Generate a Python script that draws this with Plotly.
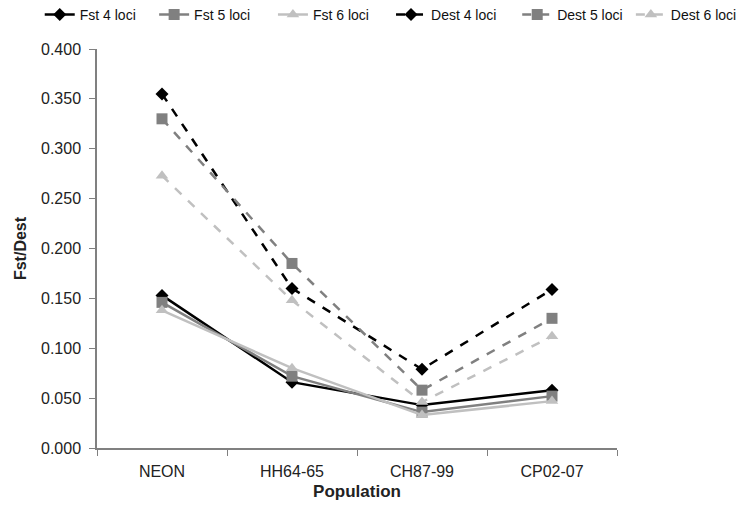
import plotly.graph_objects as go

categories = ["NEON", "HH64-65", "CH87-99", "CP02-07"]
fst4 = [0.153, 0.066, 0.043, 0.058]
fst5 = [0.146, 0.072, 0.036, 0.052]
fst6 = [0.138, 0.080, 0.033, 0.047]
dest4 = [0.355, 0.160, 0.079, 0.159]
dest5 = [0.330, 0.185, 0.058, 0.130]
dest6 = [0.273, 0.148, 0.046, 0.112]
y_ticks = [0.0, 0.05, 0.1, 0.15, 0.2, 0.25, 0.3, 0.35, 0.4]

series = [
    ("Fst 4 loci", fst4, "#000000", "diamond", "solid"),
    ("Fst 5 loci", fst5, "#808080", "square", "solid"),
    ("Fst 6 loci", fst6, "#c0c0c0", "triangle-up", "solid"),
    ("Dest 4 loci", dest4, "#000000", "diamond", "dash"),
    ("Dest 5 loci", dest5, "#808080", "square", "dash"),
    ("Dest 6 loci", dest6, "#c0c0c0", "triangle-up", "dash"),
]
legend_x = [0.043, 0.198, 0.359, 0.519, 0.690, 0.844]

fig = go.Figure()
legend_layouts = {}
for i, (name, vals, color, sym, dash) in enumerate(series):
    key = "legend" if i == 0 else f"legend{i + 1}"
    fig.add_trace(go.Scatter(
        x=categories, y=vals, name=name, mode="lines+markers", legend=key,
        line=dict(color=color, width=2.5, dash=dash),
        marker=dict(symbol=sym, size=11 if sym != "diamond" else 10, color=color),
    ))
    legend_layouts[key] = dict(
        orientation="h", x=legend_x[i], y=0.986, xref="container", yref="container",
        xanchor="left", yanchor="middle", font=dict(size=14, color="#111111"),
        itemwidth=30, bgcolor="rgba(0,0,0,0)",
    )

fig.update_layout(
    width=738, height=493,
    margin=dict(l=89, r=129, t=41, b=53, autoexpand=False),
    plot_bgcolor="white", paper_bgcolor="white",
    font=dict(family="Liberation Sans, Arial, sans-serif", color="#222222"),
    showlegend=True,
    xaxis=dict(
        type="category", range=[-0.5, 3.5], showgrid=False, showline=True,
        linecolor="#808080", linewidth=1.5,
        ticks="outside", tickson="boundaries", ticklen=6, tickcolor="#808080",
        ticklabelstandoff=8,
        tickfont=dict(size=16, color="#222222"),
        title=dict(text="<b>Population</b>", font=dict(size=17, color="#222222"), standoff=17),
    ),
    yaxis=dict(
        range=[0, 0.4], tickvals=y_ticks, tickformat=".3f", showgrid=False, zeroline=False,
        showline=True, linecolor="#808080", linewidth=1.5,
        ticks="outside", ticklen=6, tickcolor="#808080",
        ticklabelstandoff=5,
        tickfont=dict(size=16, color="#222222"),
        title=dict(text="<b>Fst/Dest</b>", font=dict(size=16, color="#222222"), standoff=10),
    ),
    **legend_layouts,
)

fig.write_html("out.html")
